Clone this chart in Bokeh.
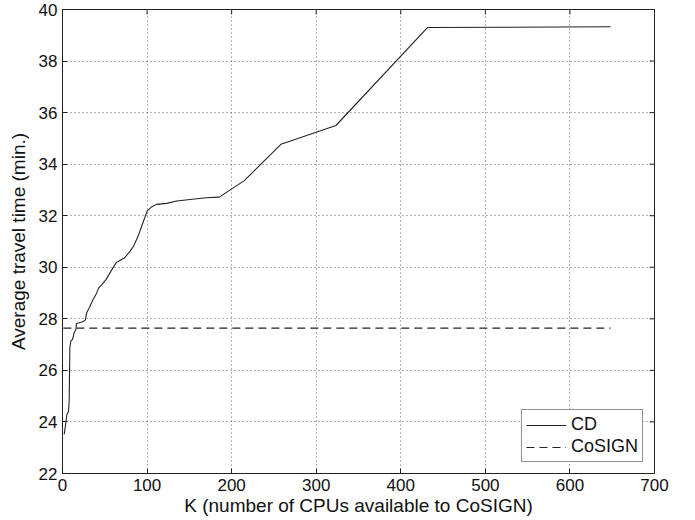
import math
from bokeh.plotting import figure
from bokeh.models import Range1d, FixedTicker, Legend, LegendItem
from bokeh.embed import file_html
from bokeh.resources import INLINE

# CD series
cd_k = [2, 4, 5.2, 7.1, 7.9, 8.7, 9.9, 11.9, 13.9, 15.9, 16.5, 23, 27, 28.6, 31.7,
        35.7, 39.7, 42.9, 46.8, 51.6, 57.5, 63.5, 68.3, 73.4, 78.6, 84.1, 89.3,
        94.4, 100, 105.2, 111.1, 123, 135, 150.8, 169.8, 185.4, 215, 258.3,
        323.3, 431.5, 648]
cd_t = [23.52, 23.98, 24.3, 24.4, 24.8, 26.88, 27.14, 27.2, 27.47, 27.6, 27.82,
        27.88, 27.95, 28.24, 28.43, 28.72, 28.95, 29.2, 29.34, 29.53, 29.86,
        30.18, 30.27, 30.37, 30.57, 30.82, 31.2, 31.66, 32.18, 32.34, 32.44,
        32.48, 32.57, 32.63, 32.7, 32.72, 33.36, 34.77, 35.5, 39.3, 39.33]

# CoSIGN (constant)
cosign_k = [1, 648]
cosign_t = [27.64, 27.64]

x_ticks = [0, 100, 200, 300, 400, 500, 600, 700]
y_ticks = [22, 24, 26, 28, 30, 32, 34, 36, 38, 40]
x_min, x_max = 0, 700
y_min, y_max = 22, 40

FONT = "Liberation Sans"
INK = "#222222"

p = figure(frame_width=592, frame_height=464, output_backend="svg",
           toolbar_location=None, x_range=Range1d(x_min, x_max),
           y_range=Range1d(y_min, y_max),
           min_border_left=62, min_border_right=41, min_border_top=9,
           min_border_bottom=10, background_fill_color="white",
           border_fill_color="white", outline_line_color=INK,
           outline_line_width=1)

for ax, ticks in ((p.xaxis[0], x_ticks), (p.yaxis[0], y_ticks)):
    ax.ticker = FixedTicker(ticks=ticks)
    ax.major_tick_in = 5
    ax.major_tick_out = 0
    ax.minor_tick_in = 0
    ax.minor_tick_out = 0
    ax.axis_line_color = INK
    ax.major_tick_line_color = INK
    ax.major_label_text_font = FONT
    ax.major_label_text_font_size = "17px"
    ax.major_label_text_color = "#111111"
    ax.axis_label_text_font = FONT
    ax.axis_label_text_font_size = "19px"
    ax.axis_label_text_font_style = "normal"
    ax.axis_label_text_color = "#111111"

p.xaxis.axis_label = "K (number of CPUs available to CoSIGN)"
p.yaxis.axis_label = "Average travel time (min.)"
p.xaxis.major_label_standoff = 5
p.xaxis.axis_label_standoff = 1
p.yaxis.major_label_standoff = 5
p.yaxis.axis_label_standoff = 7

# inward ticks on the top and right edges of the box
p.ray(x=x_ticks, y=[y_max] * len(x_ticks), length=5, length_units="screen",
      angle=-math.pi / 2, line_color=INK, line_width=1)
p.ray(x=[x_max] * len(y_ticks), y=y_ticks, length=5, length_units="screen",
      angle=math.pi, line_color=INK, line_width=1)

p.xgrid.ticker = FixedTicker(ticks=x_ticks)
p.ygrid.ticker = FixedTicker(ticks=y_ticks)
for g in (p.xgrid[0], p.ygrid[0]):
    g.grid_line_color = "#333333"
    g.grid_line_dash = "1 3"
    g.grid_line_width = 1
    g.grid_line_alpha = 0.75

r_cd = p.line(cd_k, cd_t, line_color=INK, line_width=1.1)
r_cs = p.line(cosign_k, cosign_t, line_color=INK, line_width=1.1,
              line_dash="8 5")

legend = Legend(items=[LegendItem(label="CD", renderers=[r_cd]),
                       LegendItem(label="CoSIGN", renderers=[r_cs])],
                location="bottom_right", label_text_font=FONT,
                label_text_font_size="18px", label_text_color="#111111",
                glyph_width=40, glyph_height=18, label_height=18,
                label_standoff=5, spacing=1, padding=4, margin=11,
                border_line_color=INK, border_line_width=1,
                background_fill_color="white", background_fill_alpha=1)
p.add_layout(legend)

open("out.html", "w").write(file_html(p, INLINE))
